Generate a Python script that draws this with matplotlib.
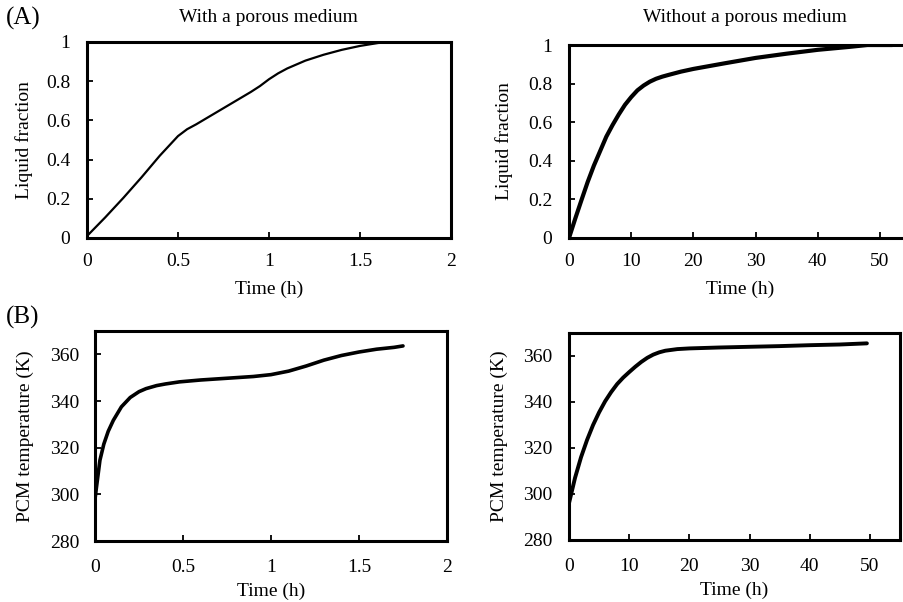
import matplotlib
matplotlib.use("Agg")
import matplotlib.pyplot as plt

plt.rcParams['font.family'] = ['Liberation Serif', 'DejaVu Serif']

# ---- Data ----
# (A) Liquid fraction, with a porous medium (time in h)
t_lf_porous = [0, 0.1, 0.2, 0.3, 0.4, 0.5, 0.55,
               0.6, 0.7, 0.8, 0.9, 0.95, 1.0, 1.05, 1.1, 1.2, 1.3, 1.4, 1.5,
               1.6, 1.7, 1.75]
lf_porous = [0.01, 0.105, 0.205, 0.31, 0.42, 0.52, 0.555,
             0.58, 0.635, 0.69, 0.745, 0.775, 0.81, 0.84, 0.865, 0.905, 0.935, 0.96, 0.98,
             0.995, 1.0, 1.0]

# (A) Liquid fraction, without a porous medium
t_lf_plain = [0, 1, 2, 3, 4, 5, 6, 7, 8, 9, 10, 11, 12, 13, 14, 15, 16, 18, 20,
              25, 30, 35, 40, 45, 48, 52]
lf_plain = [0, 0.1, 0.196, 0.29, 0.375, 0.45, 0.525, 0.585, 0.64, 0.69, 0.73,
            0.765, 0.79, 0.81, 0.825, 0.836, 0.845, 0.862, 0.876, 0.905, 0.933, 0.955,
            0.975, 0.99, 1.0, 1.0]

# (B) PCM temperature, with a porous medium
t_T_porous = [0, 0.01, 0.028, 0.05, 0.075, 0.104, 0.15, 0.2, 0.25, 0.29, 0.35, 0.4,
              0.48, 0.6, 0.7, 0.8, 0.9, 1.0, 1.1, 1.2, 1.3, 1.4, 1.5, 1.6, 1.7, 1.75]
T_porous = [298, 304, 314.6, 321.5, 327, 331.7, 337.5, 341.5, 344, 345.3, 346.6, 347.3,
            348.2, 349, 349.5, 350, 350.5, 351.3, 352.8, 355, 357.5, 359.5, 361, 362.2,
            363, 363.6]

# (B) PCM temperature, without a porous medium
t_T_plain = [0, 0.5, 1, 2, 3, 4, 5, 6, 7, 8, 9, 10, 11, 12, 13, 14, 15, 16, 18, 20,
             25, 30, 35, 40, 45, 49.5]
T_plain = [296, 301.5, 307, 316, 323.5, 330, 335.5, 340.3, 344.3, 347.8, 350.6, 353,
           355.3, 357.4, 359.2, 360.6, 361.6, 362.3, 363, 363.3, 363.7, 364, 364.3,
           364.7, 365, 365.5]

lf_ticks = [0, 0.2, 0.4, 0.6, 0.8, 1]
lf_ticklabels = ['0', '0.2', '0.4', '0.6', '0.8', '1']
t_ticks_porous = [0, 0.5, 1, 1.5, 2]
t_ticklabels_porous = ['0', '0.5', '1', '1.5', '2']
t_ticks_plain = [0, 10, 20, 30, 40, 50]
T_ticks = [280, 300, 320, 340, 360]

# ---- Figure ----
W, H = 904, 602
fig = plt.figure(figsize=(W / 100, H / 100), dpi=100)

def box(l, r, t, b):
    return [l / W, 1 - b / H, (r - l) / W, (b - t) / H]

FS = 14

def style(ax, ypad, xpad, xlabelpad):
    for s in ax.spines.values():
        s.set_linewidth(2.2)
        s.set_color('black')
    ax.tick_params(axis='both', direction='in', length=4, width=1.3,
                   labelsize=FS, colors='black')
    ax.tick_params(axis='y', pad=ypad, left=True, right=False)
    ax.tick_params(axis='x', pad=xpad, bottom=True, top=False)
    ax.set_xlabel('Time (h)', fontsize=FS, labelpad=xlabelpad)

ax1 = fig.add_axes(box(87, 451, 42, 238))
ax1.plot(t_lf_porous, lf_porous, color='black', lw=1.6, solid_capstyle='round')
ax1.set_xlim(0, 2)
ax1.set_ylim(0, 1)
ax1.set_xticks(t_ticks_porous)
ax1.set_xticklabels(t_ticklabels_porous)
ax1.set_yticks(lf_ticks)
ax1.set_yticklabels(lf_ticklabels)
style(ax1, 12, 10.5, 8)
ax1.set_ylabel('Liquid fraction', fontsize=FS, labelpad=9.5)

ax2 = fig.add_axes(box(569, 911, 45, 238))
ax2.plot(t_lf_plain, lf_plain, color='black', lw=3.0, solid_capstyle='round')
ax2.set_xlim(0, 55)
ax2.set_ylim(0, 1)
ax2.set_xticks(t_ticks_plain)
ax2.set_yticks(lf_ticks)
ax2.set_yticklabels(lf_ticklabels)
style(ax2, 12, 10.5, 8)
ax2.set_ylabel('Liquid fraction', fontsize=FS, labelpad=11)

ax3 = fig.add_axes(box(95, 447, 331, 541))
ax3.plot(t_T_porous, T_porous, color='black', lw=2.6, solid_capstyle='round')
ax3.set_xlim(0, 2)
ax3.set_ylim(280, 370)
ax3.set_xticks(t_ticks_porous)
ax3.set_xticklabels(t_ticklabels_porous)
ax3.set_yticks(T_ticks)
style(ax3, 11, 13, 4.5)
ax3.set_ylabel('PCM temperature (K)', fontsize=FS, labelpad=12)

ax4 = fig.add_axes(box(569, 900, 333, 540))
ax4.plot(t_T_plain, T_plain, color='black', lw=2.8, solid_capstyle='round')
ax4.set_xlim(0, 55)
ax4.set_ylim(280, 370)
ax4.set_xticks(t_ticks_plain)
ax4.set_yticks(T_ticks)
style(ax4, 12, 13, 4.5)
ax4.set_ylabel('PCM temperature (K)', fontsize=FS, labelpad=11)

fig.text(268 / W, 1 - 17 / H, 'With a porous medium', fontsize=FS,
         ha='center', va='center')
fig.text(745 / W, 1 - 17 / H, 'Without a porous medium', fontsize=FS,
         ha='center', va='center')
fig.text(6 / W, 1 - 18 / H, '(A)', fontsize=18, ha='left', va='center')
fig.text(6 / W, 1 - 317 / H, '(B)', fontsize=18, ha='left', va='center')

fig.savefig('out.png', dpi=100, facecolor='white')
